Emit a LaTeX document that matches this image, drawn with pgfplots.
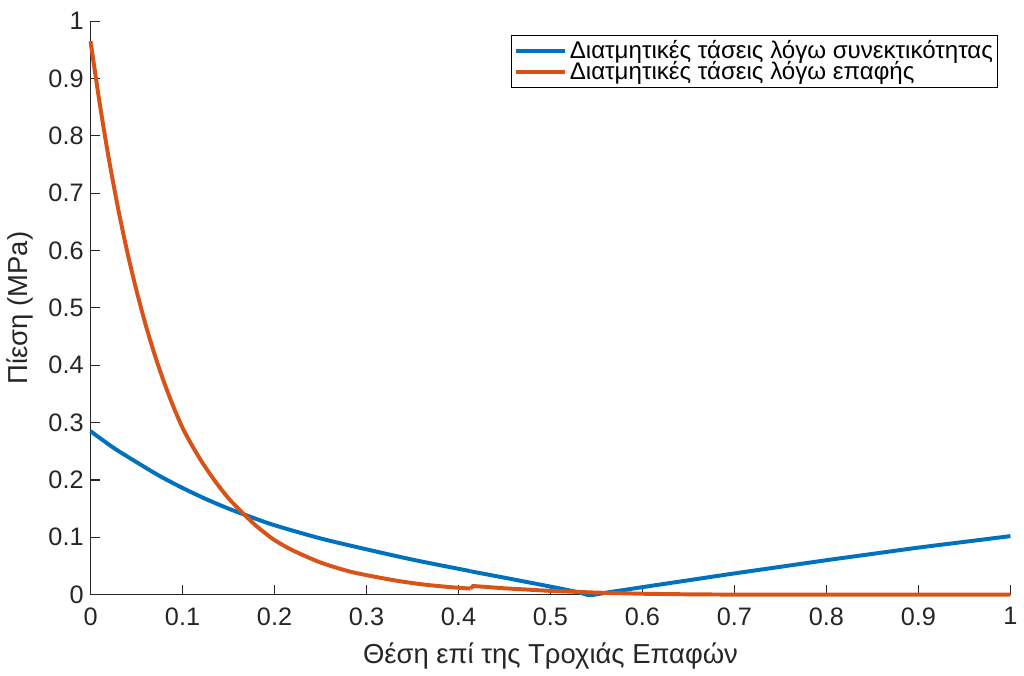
\documentclass[border={0pt 0pt 0pt 3pt}]{standalone}
\usepackage{fontspec}
\setmainfont{Liberation Sans}
\usepackage{pgfplots}
\pgfplotsset{compat=1.18}
\definecolor{mblue}{HTML}{0072BD}
\definecolor{morange}{HTML}{D95319}
\definecolor{axgray}{HTML}{262626}
\begin{document}
\begin{tikzpicture}
\begin{axis}[
  scale only axis,
  width=466pt, height=290.5pt,
  xmin=0, xmax=1, ymin=0, ymax=1,
  axis lines*=left,
  axis line style={axgray, line width=0.6pt},
  tick align=inside,
  major tick length=5pt,
  tick style={axgray, line width=0.6pt},
  xtick={0,0.1,...,1.0},
  ytick={0,0.1,...,1.0},
  xticklabels={0,0.1,0.2,0.3,0.4,0.5,0.6,0.7,0.8,0.9,1},
  yticklabels={0,0.1,0.2,0.3,0.4,0.5,0.6,0.7,0.8,0.9,1},
  /pgf/number format/assume math mode=true,
  ticklabel style={font=\fontsize{12.8}{14}\selectfont, text=axgray},
  xticklabel style={yshift=-3pt},
  xlabel={Θέση επί της Τροχιάς Επαφών},
  ylabel={Πίεση (MPa)},
  label style={font=\fontsize{13.9}{15}\selectfont, text=axgray},
  xlabel style={yshift=-2pt},
  ylabel style={yshift=1pt},
  clip=false,
  legend style={at={(0.987,0.976)}, anchor=north east, draw=black, line width=0.5pt,
    font=\fontsize{12.2}{13}\selectfont, inner sep=1pt, row sep=-3pt,
    nodes={inner sep=1.5pt}},
  legend cell align=left,
  legend image code/.code={\draw[#1] (-2pt,0pt) -- (23pt,0pt);},
]
\addplot[mblue, line width=2pt, smooth, tension=0.5] coordinates {
(0,0.285) (0.025,0.256) (0.05,0.231) (0.075,0.207) (0.1,0.186) (0.125,0.167)
(0.15,0.150) (0.175,0.135) (0.2,0.121) (0.25,0.098) (0.3,0.079) (0.35,0.061)
(0.4,0.045) (0.413,0.041)
};
\addlegendentry{Διατμητικές τάσεις λόγω συνεκτικότητας}
\addplot[morange, line width=2pt, smooth, tension=0.5] coordinates {
(0,0.965) (0.01,0.856) (0.02,0.759) (0.03,0.673) (0.04,0.597) (0.05,0.530)
(0.06,0.470) (0.07,0.417) (0.08,0.370) (0.09,0.328) (0.1,0.291) (0.11,0.261)
(0.12,0.234) (0.13,0.210) (0.14,0.188) (0.15,0.168) (0.16,0.151) (0.17,0.135)
(0.18,0.120) (0.19,0.107) (0.2,0.095) (0.22,0.077) (0.25,0.056)
(0.28,0.041) (0.3,0.034) (0.33,0.025) (0.36,0.018) (0.39,0.0132) (0.413,0.0105)
};
\addlegendentry{Διατμητικές τάσεις λόγω επαφής}
\addplot[mblue, line width=2pt, smooth, tension=0.4, forget plot] coordinates {
(0.413,0.041) (0.417,0.0395) (0.45,0.0295) (0.5,0.0140) (0.52,0.0075) (0.533,0.003)
(0.542,-0.001) (0.552,0.001) (0.565,0.0045) (0.6,0.013) (0.65,0.025) (0.7,0.037)
(0.75,0.0485) (0.8,0.060) (0.85,0.071) (0.9,0.082) (0.95,0.092) (1.0,0.102)
};
\addplot[morange, line width=2pt, forget plot] coordinates {
(0.413,0.0105) (0.416,0.015) (0.45,0.011) (0.5,0.0065) (0.55,0.0035)
(0.6,0.0015) (0.65,0.0005) (0.7,0.0) (0.85,0.0) (1.0,0.0)
};
\end{axis}
\end{tikzpicture}
\end{document}
